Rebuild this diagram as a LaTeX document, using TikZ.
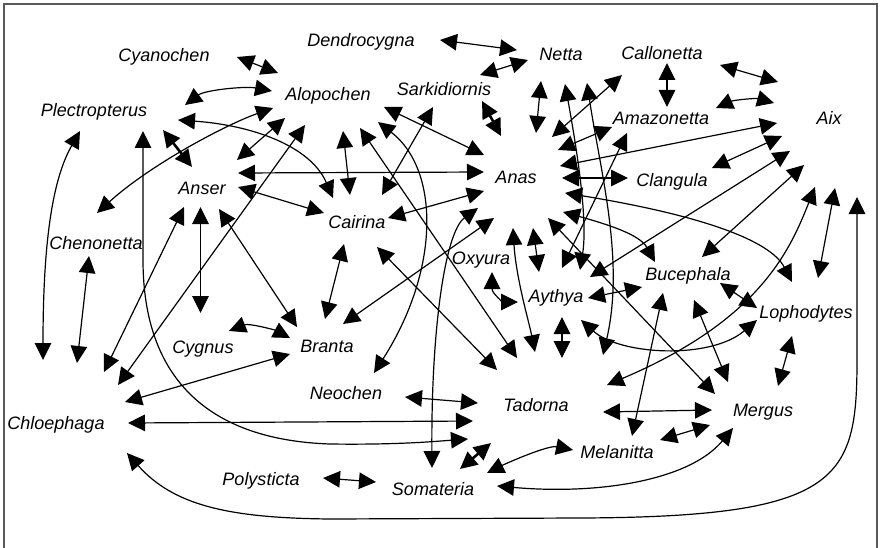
\documentclass[tikz,border=0pt]{standalone}
\usepackage{fontspec}
\setmainfont{Liberation Sans}
\usetikzlibrary{arrows.meta}
\begin{document}
\begin{tikzpicture}[x=1pt,y=-1pt,
  taxon/.style={font=\fontsize{18}{20}\selectfont\itshape, inner sep=0pt,
                text height=13pt, text depth=0pt},
  link/.style={line width=1.2pt,
               {Triangle[length=17pt,width=16.5pt]}-{Triangle[length=17pt,width=16.5pt]}},
  heavy/.style={link, line width=2.6pt},
  frame/.style={draw=black!65, line width=1.8pt}]
\useasboundingbox (0,0) rectangle (880,548);
\draw[frame] (4,560) -- (4,4) -- (877,4) -- (877,560);

% genera
\node[taxon] (cyanochen)    at (164,55)  {Cyanochen};
\node[taxon] (dendrocygna)  at (361,40)  {Dendrocygna};
\node[taxon] (netta)        at (561,54)  {Netta};
\node[taxon] (callonetta)   at (662,53)  {Callonetta};
\node[taxon] (plectropterus) at (94,110) {Plectropterus};
\node[taxon] (alopochen)    at (328,94)  {Alopochen};
\node[taxon] (sarkidiornis) at (444,89)  {Sarkidiornis};
\node[taxon] (amazonetta)   at (661,118) {Amazonetta};
\node[taxon] (aix)          at (829,118) {Aix};
\node[taxon] (anas)         at (516,177) {Anas};
\node[taxon] (clangula)     at (672,180) {Clangula};
\node[taxon] (anser)        at (202,188) {Anser};
\node[taxon] (cairina)      at (357,222) {Cairina};
\node[taxon] (chenonetta)   at (96,243)  {Chenonetta};
\node[taxon] (oxyura)       at (481,258) {Oxyura};
\node[taxon] (bucephala)    at (688,274) {Bucephala};
\node[taxon] (aythya)       at (556,296) {Aythya};
\node[taxon] (lophodytes)   at (806,312) {Lophodytes};
\node[taxon] (cygnus)       at (203,347) {Cygnus};
\node[taxon] (branta)       at (327,346) {Branta};
\node[taxon] (neochen)      at (346,393) {Neochen};
\node[taxon] (tadorna)      at (536,405) {Tadorna};
\node[taxon] (mergus)       at (763,410) {Mergus};
\node[taxon] (chloephaga)   at (56,423)  {Chloephaga};
\node[taxon] (melanitta)    at (617,452) {Melanitta};
\node[taxon] (polysticta)   at (261,479) {Polysticta};
\node[taxon] (somateria)    at (433,489) {Somateria};

% top row
\draw[link] ([shift={(73,2)}]cyanochen.center) -- ([shift={(-50,-21)}]alopochen.center);
\draw[link] ([shift={(79,0)}]dendrocygna.center) -- ([shift={(-44,-4)}]netta.center);
\draw[link] ([shift={(-33,6)}]netta.center) -- ([shift={(36,-14)}]sarkidiornis.center);
\draw[heavy] ([shift={(38,12)}]sarkidiornis.center) -- ([shift={(-15,-41)}]anas.center);
\draw[link] ([shift={(-20,27)}]netta.center) -- ([shift={(20,-44)}]anas.center);
\draw[link] ([shift={(4,30)}]netta.center) .. controls +(12,66) and +(8,-50) .. ([shift={(24,-26)}]aythya.center);
\draw[link] ([shift={(26,29)}]netta.center) .. controls +(13,87) and +(22,-95) .. ([shift={(67,-50)}]tadorna.center);
\draw[link] ([shift={(5,10)}]callonetta.center) -- ([shift={(6,-11)}]amazonetta.center);
\draw[link] ([shift={(58,12)}]callonetta.center) -- ([shift={(-51,-36)}]aix.center);
\draw[link] ([shift={(-40,22)}]callonetta.center) -- ([shift={(36,-40)}]anas.center);
\draw[link] ([shift={(55,-10)}]amazonetta.center) .. controls +(18,-8) and +(-18,-5) .. ([shift={(-55,-15)}]aix.center);
\draw[link] ([shift={(-49,9)}]amazonetta.center) -- ([shift={(42,-27)}]anas.center);
\draw[link] ([shift={(-34,15)}]amazonetta.center) -- ([shift={(6,-28)}]aythya.center);

% Anas and Aix
\draw[link] ([shift={(44,-11)}]anas.center) -- ([shift={(-52,5)}]aix.center);
\draw[link] ([shift={(46,1)}]anas.center) -- ([shift={(-44,-2)}]clangula.center);
\draw[link] ([shift={(40,-12)}]clangula.center) -- ([shift={(-47,18)}]aix.center);
\draw[link] ([shift={(34,-19)}]aythya.center) -- ([shift={(-39,33)}]aix.center);
\draw[link] ([shift={(14,-17)}]bucephala.center) -- ([shift={(-25,47)}]aix.center);
\draw[link] ([shift={(-14,69)}]aix.center) .. controls +(-25,63) and +(153,-65) .. ([shift={(71,-20)}]tadorna.center);
\draw[link] ([shift={(12,-34)}]lophodytes.center) -- ([shift={(6,70)}]aix.center);
\draw[link] ([shift={(71,30)}]chloephaga.center) .. controls +(47,53) and +(-100,-1) .. (330,519)
  -- (580,518) .. controls +(260,-1) and +(0,120) .. (857,360) -- ([shift={(28,79)}]aix.center);
\draw[link] ([shift={(49,16)}]anas.center) .. controls +(135,22) and +(-22,-42) .. ([shift={(-14,-30)}]lophodytes.center);
\draw[link] ([shift={(47,35)}]anas.center) .. controls +(47,13) and +(-15,-27) .. ([shift={(-33,-12)}]bucephala.center);
\draw[link] ([shift={(32,41)}]anas.center) -- ([shift={(-48,-16)}]mergus.center);
\draw[link] ([shift={(17,51)}]anas.center) -- ([shift={(-17,-24)}]aythya.center);
\draw[link] ([shift={(-3,51)}]anas.center) .. controls +(3,50) and +(-6,-30) .. ([shift={(-1,-53)}]tadorna.center);
\draw[link] ([shift={(-22,41)}]anas.center) -- ([shift={(16,-22)}]branta.center);
\draw[link] ([shift={(-38,31)}]anas.center) .. controls +(-33,24) and +(-1,-138) .. ([shift={(-1,-21)}]somateria.center);
\draw[link] ([shift={(-32,14)}]anas.center) -- ([shift={(31,-4)}]cairina.center);
\draw[link] ([shift={(-32,-5)}]anas.center) -- ([shift={(36,-15)}]anser.center);
\draw[link] ([shift={(-32,-22)}]anas.center) -- ([shift={(56,13)}]alopochen.center);

% Alopochen
\draw[link] ([shift={(15,37)}]alopochen.center) -- ([shift={(-7,-27)}]cairina.center);
\draw[link] ([shift={(32,34)}]alopochen.center) -- ([shift={(-19,-47)}]tadorna.center);
\draw[link] ([shift={(50,28)}]alopochen.center) .. controls +(62,48) and +(66,-103) .. ([shift={(28,-20)}]neochen.center);
\draw[link] ([shift={(-43,24)}]alopochen.center) -- ([shift={(35,-28)}]anser.center);
\draw[link] ([shift={(-23,31)}]alopochen.center) -- ([shift={(62,-38)}]chloephaga.center);
\draw[link] ([shift={(-55,14)}]alopochen.center) .. controls +(-48,17) and +(53,-48) .. ([shift={(1,-30)}]chenonetta.center);
\draw[link] ([shift={(-56,-3)}]alopochen.center) .. controls +(-27,-5) and +(20,-15) .. ([shift={(91,-5)}]plectropterus.center);

% Plectropterus
\draw[link] ([shift={(84,10)}]plectropterus.center) .. controls +(72,5) and +(-23,-53) .. ([shift={(-24,-24)}]cairina.center);
\draw[heavy] ([shift={(69,20)}]plectropterus.center) -- ([shift={(-10,-21)}]anser.center);
\draw[link] ([shift={(-14,21)}]plectropterus.center) .. controls +(-25,44) and +(0,-130) .. ([shift={(-13,-63)}]chloephaga.center);
\draw[link] ([shift={(49,21)}]plectropterus.center) -- (143,260) .. controls +(0,120) and +(-120,-4) .. (330,444)
  .. controls +(70,1) and +(-28,2) .. ([shift={(-68,34)}]tadorna.center);

% Anser, Cygnus, Branta, Chloephaga
\draw[link] ([shift={(36,-1)}]anser.center) -- ([shift={(-33,-9)}]cairina.center);
\draw[link] ([shift={(-18,19)}]anser.center) -- ([shift={(48,-51)}]chloephaga.center);
\draw[link] ([shift={(-1.5,19)}]anser.center) -- ([shift={(-2.5,-34)}]cygnus.center);
\draw[link] ([shift={(17,21)}]anser.center) -- ([shift={(-30,-19)}]branta.center);
\draw[link] ([shift={(-7,13)}]chenonetta.center) -- ([shift={(21,-60)}]chloephaga.center);
\draw[link] ([shift={(26,-16)}]cygnus.center) .. controls +(20,-8) and +(-15,-8) .. ([shift={(-37,-8)}]branta.center);
\draw[link] ([shift={(69,-21)}]chloephaga.center) -- ([shift={(-37,8)}]branta.center);
\draw[link] ([shift={(72,0)}]chloephaga.center) -- ([shift={(-63,16)}]tadorna.center);
\draw[link] ([shift={(-13,22)}]cairina.center) -- ([shift={(-2,-27)}]branta.center);
\draw[link] ([shift={(20,25)}]cairina.center) -- ([shift={(-39,-35)}]tadorna.center);
\draw[link] ([shift={(-11,18)}]sarkidiornis.center) -- ([shift={(25,-27)}]cairina.center);

% Aythya, Bucephala, Lophodytes, Mergus
\draw[link] ([shift={(11,14)}]oxyura.center) .. controls +(0,22) and +(-14,0) .. ([shift={(-38,6)}]aythya.center);
\draw[link] ([shift={(6,21)}]aythya.center) -- ([shift={(26,-47)}]tadorna.center);
\draw[link] ([shift={(32,2)}]aythya.center) -- ([shift={(-46,13)}]bucephala.center);
\draw[link] ([shift={(25,24)}]aythya.center) .. controls +(39,35) and +(-47,40) .. ([shift={(-49,8)}]lophodytes.center);
\draw[link] ([shift={(32,9)}]bucephala.center) -- ([shift={(-49,-4)}]lophodytes.center);
\draw[link] ([shift={(-25,19)}]bucephala.center) -- ([shift={(15,-16)}]melanitta.center);
\draw[link] ([shift={(6,26)}]bucephala.center) -- ([shift={(-35,-28)}]mergus.center);
\draw[link] ([shift={(-14,24)}]lophodytes.center) -- ([shift={(15,-24)}]mergus.center);

% bottom
\draw[link] ([shift={(59,4)}]neochen.center) -- ([shift={(-58,-2)}]tadorna.center);
\draw[heavy] ([shift={(-45,38)}]tadorna.center) -- ([shift={(27,-20)}]somateria.center);
\draw[link] ([shift={(67,7)}]tadorna.center) -- ([shift={(-51,0)}]mergus.center);
\draw[link] ([shift={(54,-16)}]somateria.center) .. controls +(20,-10) and +(-25,-5) .. ([shift={(-44,-2)}]melanitta.center);
\draw[link] ([shift={(64,-3)}]somateria.center) .. controls +(103,9) and +(-43,52) .. ([shift={(-30,18)}]mergus.center);
\draw[link] ([shift={(43,-12)}]melanitta.center) -- ([shift={(-53,15)}]mergus.center);
\draw[link] ([shift={(62,-1)}]polysticta.center) -- ([shift={(-57,-7)}]somateria.center);
\end{tikzpicture}
\end{document}
